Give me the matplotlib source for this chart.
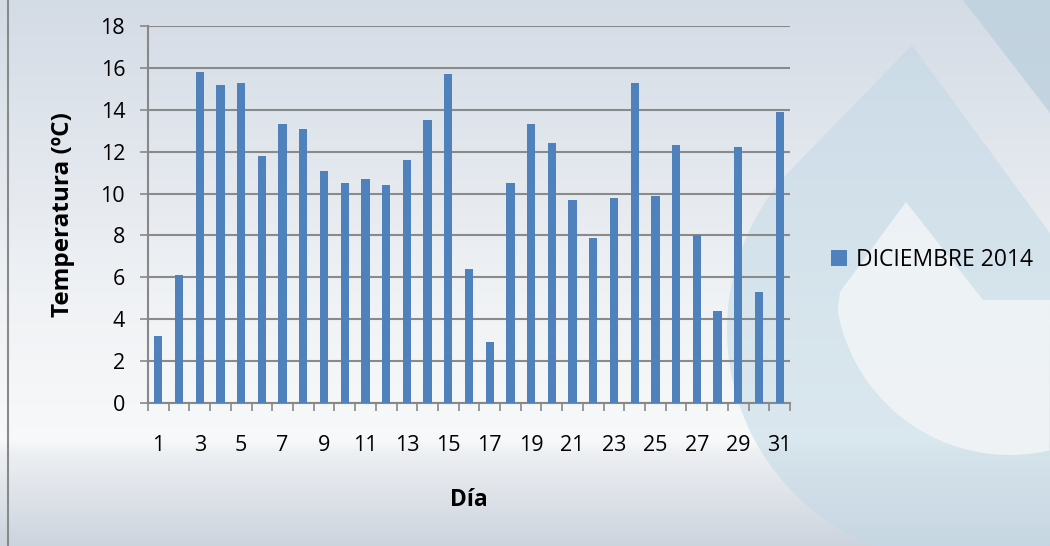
import numpy as np
import matplotlib
matplotlib.use("Agg")
import matplotlib.pyplot as plt
from matplotlib.patches import Polygon

plt.rcParams['font.family'] = ['Open Sans', 'DejaVu Sans']

# datos: temperatura diaria, diciembre 2014
dias = list(range(1, 32))
temperaturas = [3.2, 6.1, 15.8, 15.2, 15.3, 11.8, 13.3, 13.1, 11.1, 10.5,
                10.7, 10.4, 11.6, 13.5, 15.7, 6.4, 2.9, 10.5, 13.3, 12.4,
                9.7, 7.9, 9.8, 15.3, 9.9, 12.3, 8.0, 4.4, 12.2, 5.3, 13.9]
serie = "DICIEMBRE 2014"
etiquetas_x = [str(d) if d % 2 == 1 else "" for d in dias]
yticks = list(range(0, 19, 2))

W, H = 1050, 546
fig = plt.figure(figsize=(W / 100, H / 100), dpi=100)

# fondo (degradado + marca de agua), en coordenadas de pixel
bg = fig.add_axes([0, 0, 1, 1], zorder=-10)
ys = np.arange(H)
stops_y = [0, 300, 440, 452, 546]
stops_c = np.array([[0.83, 0.86, 0.90], [0.94, 0.95, 0.96], [0.97, 0.975, 0.98],
                    [0.93, 0.94, 0.95], [0.80, 0.83, 0.87]])
col = np.stack([np.interp(ys, stops_y, stops_c[:, k]) for k in range(3)], axis=1)
bg.imshow(col[:, None, :], aspect='auto', extent=[0, W, H, 0])


def arco(cx, cy, r, a0, a1, n=80):
    t = np.radians(np.linspace(a0, a1, n))
    return np.column_stack([cx + r * np.cos(t), cy + r * np.sin(t)])


externo = np.vstack([[[912, 45]], arco(960, 330, 233, 224, 67), [[1050, 233]]])
bg.add_patch(Polygon(externo, closed=True, color=(0.76, 0.85, 0.90), alpha=0.55, lw=0))
interno = np.vstack([[[906, 202]], [[840, 292]], arco(1010, 280, 175, 170, 77),
                     [[1050, 300]], [[983, 300]]])
bg.add_patch(Polygon(interno, closed=True, color=(0.95, 0.96, 0.97), alpha=0.85, lw=0))
bg.add_patch(Polygon([[963, 0], [1050, 113], [1050, 0]], closed=True,
                     color=(0.74, 0.82, 0.87), alpha=0.8, lw=0))
bg.plot([8, 8], [0, H], color='#8a8a8a', lw=1.5)
bg.set_xlim(0, W)
bg.set_ylim(H, 0)
bg.axis('off')

ax = fig.add_axes([148 / W, 1 - 403 / H, 642 / W, 377 / H])
ax.patch.set_alpha(0)
ax.bar(dias, temperaturas, width=0.4, color='#4f81bd', label=serie, zorder=3)

ax.set_xlim(0.5, 31.5)
ax.set_ylim(0, 18)
ax.set_yticks(yticks)
ax.set_xticks(dias)
ax.set_xticklabels(etiquetas_x)
ax.set_xticks(np.arange(0.5, 32, 1), minor=True)
ax.tick_params(axis='x', which='major', length=0, pad=23, labelsize=15.5)
ax.tick_params(axis='x', which='minor', length=5.5, width=1.2, color='#888888')
ax.tick_params(axis='y', length=5.5, width=1.2, color='#888888', pad=11, labelsize=15.5)

ax.grid(axis='y', color='#8a8a8a', linewidth=1.5, zorder=0)
for s in ['top', 'right']:
    ax.spines[s].set_visible(False)
for s in ['left', 'bottom']:
    ax.spines[s].set_color('#888888')
    ax.spines[s].set_linewidth(1.5)

ax.set_xlabel("Día", fontsize=16.5, fontweight='bold')
ax.set_ylabel("Temperatura (ºC)", fontsize=17.5, fontweight='bold')
ax.xaxis.set_label_coords(0.5, -0.225)
ax.yaxis.set_label_coords(-0.114, 0.5)

fig.legend(loc='center left', bbox_to_anchor=(0.772, 0.524), frameon=False,
           fontsize=16.5, handlelength=0.68, handleheight=0.68, handletextpad=0.4)

fig.savefig("out.png", dpi=100)
